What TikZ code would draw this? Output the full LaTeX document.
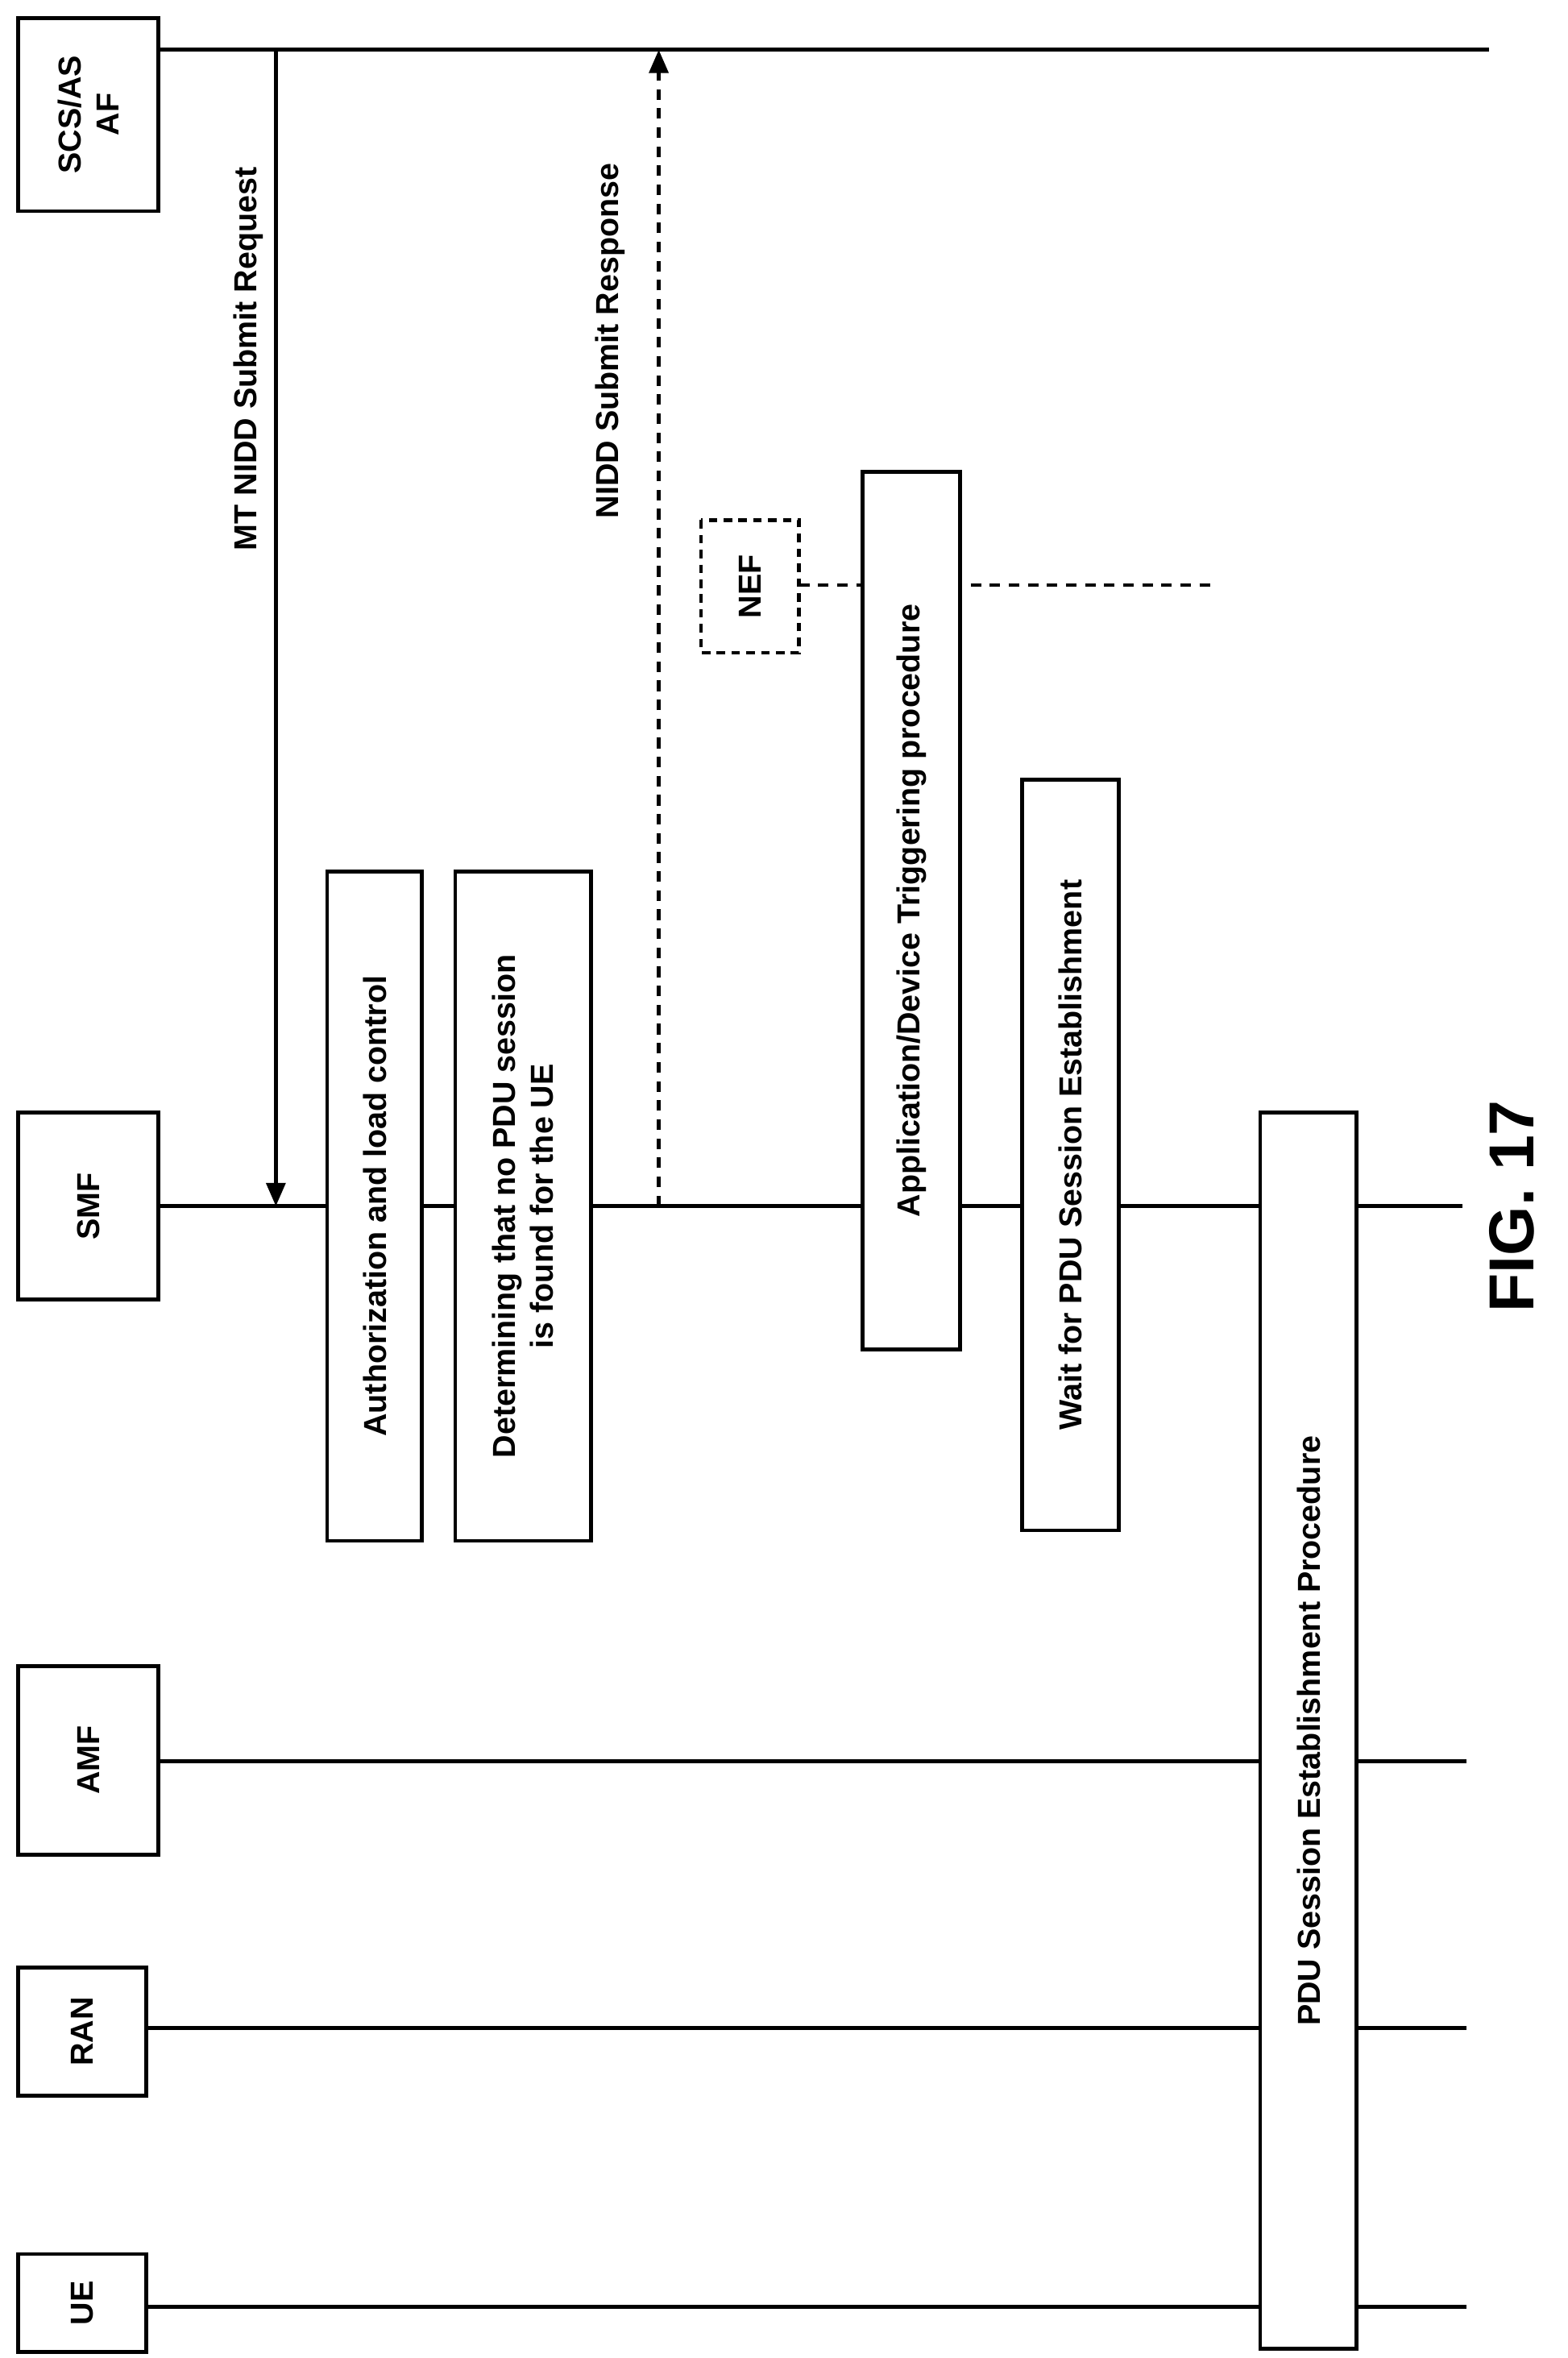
\documentclass[tikz,border=0pt]{standalone}
\usepackage{fontspec}
\setmainfont{Liberation Sans}
\usetikzlibrary{arrows.meta}
\begin{document}
\begin{tikzpicture}[x=0.25mm, y=-0.25mm, line width=1.8pt,
  every node/.style={font=\bfseries\fontsize{15}{18}\selectfont},
  ent/.style={draw, fill=white, rotate=90, inner sep=0pt, align=center},
  proc/.style={draw, fill=white, rotate=90, inner sep=0pt, align=center},
  msg/.style={-{Triangle[length=11pt,width=9pt]}}]
\useasboundingbox (0,0) rectangle (1040,1564);

% Lifelines
\coordinate (afE) at (988,33);
\coordinate (smfE) at (970,800);
\coordinate (amfE) at (973,1168);
\coordinate (ranE) at (973,1345);
\coordinate (ueE) at (973,1530);
\draw (105,33) -- (afE);
\draw (105,800) -- (smfE);
\draw (105,1168) -- (amfE);
\draw (97,1345) -- (ranE);
\draw (97,1530) -- (ueE);

% Entities
\node[ent, minimum width=32mm, minimum height=23.25mm] (af) at (58.5,76) {SCS/AS\\AF};
\node[ent, minimum width=31mm, minimum height=23.25mm] (smf) at (58.5,800) {SMF};
\node[ent, minimum width=31.25mm, minimum height=23.25mm] (amf) at (58.5,1167.5) {AMF};
\node[ent, minimum width=21.25mm, minimum height=21.25mm] (ran) at (54.5,1347.5) {RAN};
\node[ent, minimum width=16.25mm, minimum height=21.25mm] (ue) at (54.5,1527.5) {UE};

% Messages
\coordinate (reqS) at (183,33);
\coordinate (reqE) at (183,800);
\draw[msg] (reqS) -- (reqE);
\node[rotate=90] (req) at (165,238) {MT NIDD Submit Request};
\coordinate (rspS) at (437,800);
\coordinate (rspE) at (437,33);
\draw[msg, dash pattern=on 5pt off 4pt] (rspS) -- (rspE);
\node[rotate=90] (rsp) at (405,226) {NIDD Submit Response};

% NEF
\coordinate (nefE) at (805,388);
\draw[dash pattern=on 5pt off 4pt] (530,388) -- (nefE);
\node[proc, dash pattern=on 4pt off 3pt, minimum width=22mm, minimum height=16.25mm] (nef) at (497.5,389) {NEF};

% Procedures
\node[proc, minimum width=111mm, minimum height=15.75mm] (auth) at (248.5,800) {Authorization and load control};
\node[proc, minimum width=111mm, minimum height=22.5mm] (det) at (347,800) {Determining that no PDU session\\is found for the UE};
\node[proc, minimum width=145.5mm, minimum height=16.25mm] (trig) at (604.5,604) {Application/Device Triggering procedure};
\node[proc, minimum width=124.5mm, minimum height=16mm] (wait) at (710,766) {Wait for PDU Session Establishment};
\node[proc, minimum width=205mm, minimum height=16mm] (pdu) at (868,1148) {PDU Session Establishment Procedure};

\node[rotate=90, font=\bfseries\fontsize{30}{36}\selectfont] (fig) at (1003,800) {FIG. 17};
\end{tikzpicture}
\end{document}
